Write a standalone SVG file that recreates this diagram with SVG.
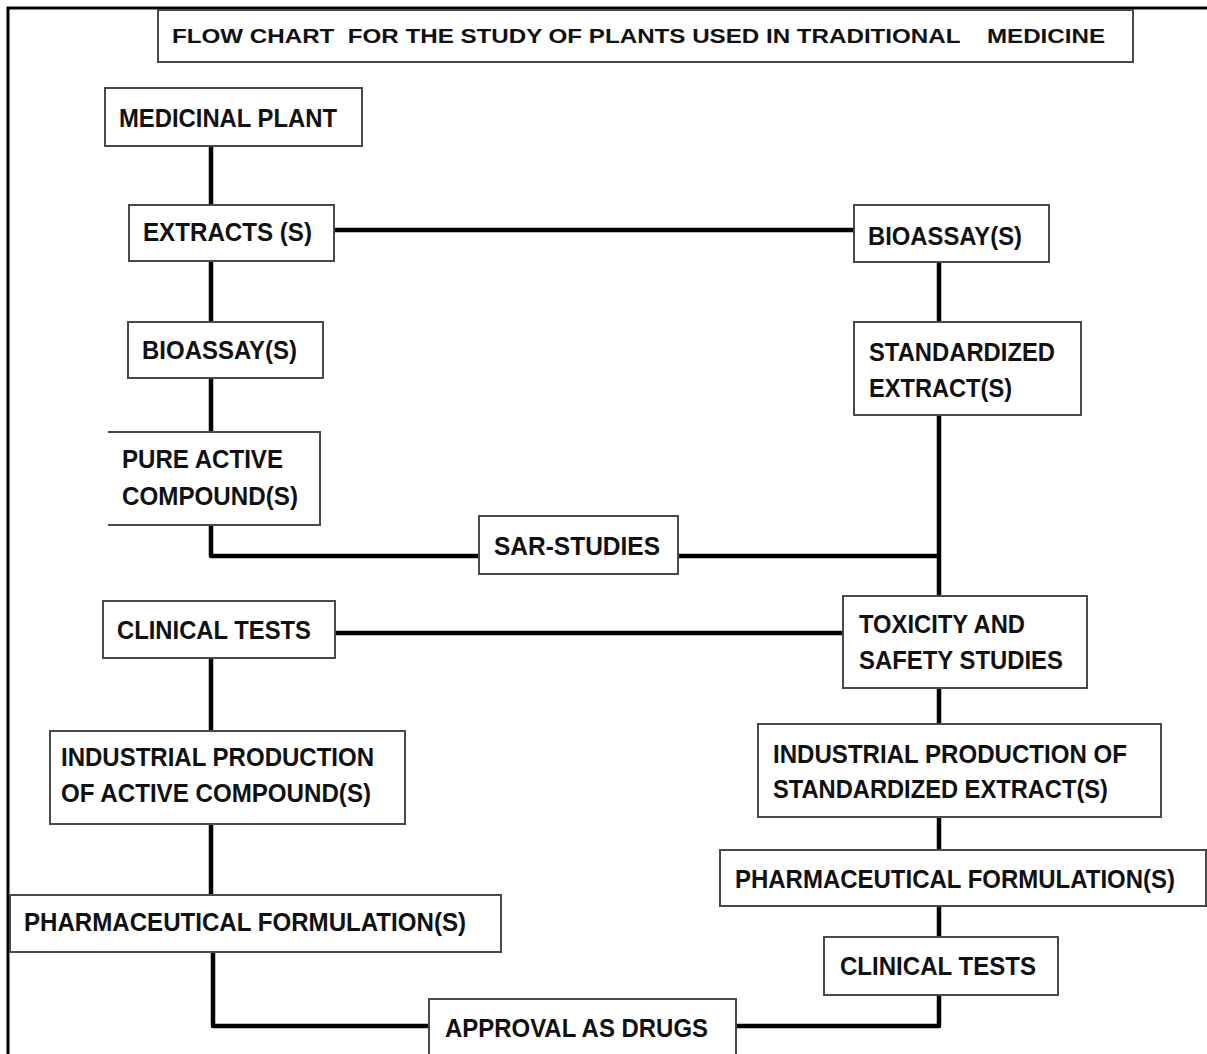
<svg xmlns="http://www.w3.org/2000/svg" width="1207" height="1054" viewBox="0 0 1207 1054">
<style>
.box{fill:#fff;stroke:#4a4a4a;stroke-width:2}
.t{font-family:"Liberation Sans",Arial,sans-serif;font-weight:bold;font-size:26px;fill:#111}
.tp{font-size:25px}
.tt{font-size:21px;white-space:pre}
.c{fill:none;stroke:#000;stroke-width:4.5;stroke-linejoin:round}
.frame{fill:none;stroke:#000;stroke-width:3}
</style>
<rect width="1207" height="1054" fill="#fff"/>
<path class="frame" d="M8,1054 V8 H1207"/>

<g id="connectors">
<path class="c" d="M211,146 V205"/>
<path class="c" d="M334,230 H855"/>
<path class="c" d="M211,261 V322"/>
<path class="c" d="M211,378 V432"/>
<path class="c" d="M211,524 V556 H479"/>
<path class="c" d="M678,556 H939"/>
<path class="c" d="M939,262 V322"/>
<path class="c" d="M939,415 V596"/>
<path class="c" d="M335,633 H843"/>
<path class="c" d="M211,658 V731"/>
<path class="c" d="M211,824 V895"/>
<path class="c" d="M213,952 V1026 H429"/>
<path class="c" d="M939,688 V724"/>
<path class="c" d="M939,817 V850"/>
<path class="c" d="M939,906 V937"/>
<path class="c" d="M736,1026 H939 V995"/>
</g>

<g id="title">
<rect class="box" x="158" y="10" width="975" height="52"/>
<text class="t tt" x="172" y="43" textLength="933" lengthAdjust="spacingAndGlyphs">FLOW CHART  FOR THE STUDY OF PLANTS USED IN TRADITIONAL    MEDICINE</text>
</g>

<g id="medicinal-plant">
<rect class="box" x="105" y="88" width="257" height="58"/>
<text class="t" x="119" y="127" textLength="218" lengthAdjust="spacingAndGlyphs">MEDICINAL PLANT</text>
</g>

<g id="extracts">
<rect class="box" x="129" y="205" width="205" height="56"/>
<text class="t" x="143" y="241" textLength="169" lengthAdjust="spacingAndGlyphs">EXTRACTS (S)</text>
</g>

<g id="bioassay-left">
<rect class="box" x="128" y="322" width="195" height="56"/>
<text class="t" x="142" y="359" textLength="155" lengthAdjust="spacingAndGlyphs">BIOASSAY(S)</text>
</g>

<g id="pure-active">
<path class="box" d="M108,432 H320 V525 H108"/>
<text class="t" x="122" y="468" textLength="161" lengthAdjust="spacingAndGlyphs">PURE ACTIVE</text>
<text class="t" x="122" y="505" textLength="176" lengthAdjust="spacingAndGlyphs">COMPOUND(S)</text>
</g>

<g id="sar-studies">
<rect class="box" x="479" y="516" width="199" height="58"/>
<text class="t" x="494" y="555" textLength="166" lengthAdjust="spacingAndGlyphs">SAR-STUDIES</text>
</g>

<g id="clinical-left">
<rect class="box" x="103" y="601" width="232" height="57"/>
<text class="t" x="117" y="639" textLength="194" lengthAdjust="spacingAndGlyphs">CLINICAL TESTS</text>
</g>

<g id="industrial-left">
<rect class="box" x="50" y="731" width="355" height="93"/>
<text class="t" x="61" y="766" textLength="313" lengthAdjust="spacingAndGlyphs">INDUSTRIAL PRODUCTION</text>
<text class="t" x="61" y="802" textLength="310" lengthAdjust="spacingAndGlyphs">OF ACTIVE COMPOUND(S)</text>
</g>

<g id="pharma-left">
<rect class="box" x="10" y="895" width="491" height="57"/>
<text class="t tp" x="24" y="931" textLength="442" lengthAdjust="spacingAndGlyphs">PHARMACEUTICAL FORMULATION(S)</text>
</g>

<g id="approval">
<rect class="box" x="429" y="999" width="307" height="70"/>
<text class="t" x="445" y="1037" textLength="263" lengthAdjust="spacingAndGlyphs">APPROVAL AS DRUGS</text>
</g>

<g id="bioassay-right">
<rect class="box" x="854" y="205" width="195" height="57"/>
<text class="t" x="868" y="245" textLength="154" lengthAdjust="spacingAndGlyphs">BIOASSAY(S)</text>
</g>

<g id="standardized">
<rect class="box" x="854" y="322" width="227" height="93"/>
<text class="t" x="869" y="361" textLength="186" lengthAdjust="spacingAndGlyphs">STANDARDIZED</text>
<text class="t" x="869" y="397" textLength="143" lengthAdjust="spacingAndGlyphs">EXTRACT(S)</text>
</g>

<g id="toxicity">
<rect class="box" x="843" y="596" width="244" height="92"/>
<text class="t" x="859" y="633" textLength="166" lengthAdjust="spacingAndGlyphs">TOXICITY AND</text>
<text class="t" x="859" y="669" textLength="204" lengthAdjust="spacingAndGlyphs">SAFETY STUDIES</text>
</g>

<g id="industrial-right">
<rect class="box" x="758" y="724" width="403" height="93"/>
<text class="t" x="773" y="763" textLength="354" lengthAdjust="spacingAndGlyphs">INDUSTRIAL PRODUCTION OF</text>
<text class="t" x="773" y="798" textLength="335" lengthAdjust="spacingAndGlyphs">STANDARDIZED EXTRACT(S)</text>
</g>

<g id="pharma-right">
<rect class="box" x="720" y="850" width="486" height="56"/>
<text class="t tp" x="735" y="888" textLength="440" lengthAdjust="spacingAndGlyphs">PHARMACEUTICAL FORMULATION(S)</text>
</g>

<g id="clinical-right">
<rect class="box" x="824" y="937" width="234" height="58"/>
<text class="t" x="840" y="975" textLength="196" lengthAdjust="spacingAndGlyphs">CLINICAL TESTS</text>
</g>
</svg>
